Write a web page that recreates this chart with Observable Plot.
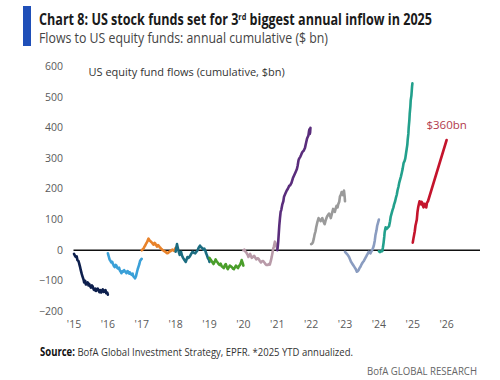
<!DOCTYPE html>
<html>
<head>
<meta charset="utf-8">
<script src="https://cdn.jsdelivr.net/npm/d3@7"></script>
<script src="https://cdn.jsdelivr.net/npm/@observablehq/plot@0.6"></script>
<style>
  html, body { margin: 0; padding: 0; background: #fff; }
  body { width: 500px; height: 380px; position: relative; overflow: hidden; font-family: "Open Sans", "Noto Sans", sans-serif; }
  .abs { position: absolute; white-space: nowrap; transform-origin: 0 50%; }
  #bar { position: absolute; left: 23px; top: 6px; width: 8px; height: 40px; background: #1f4fb8; }
  #title { left: 39px; top: 9.5px; font-size: 15.5px; line-height: 18px; font-weight: 700; color: #1a1a1a; }
  #title sup { font-size: 9px; line-height: 0; vertical-align: 5px; }
  #subtitle { left: 39px; top: 29px; font-size: 14px; line-height: 18px; color: #444; }
  #source { left: 40px; top: 344px; font-size: 11.5px; line-height: 16px; color: #333; }
  #source b { color: #111; }
  #brand { left: 367px; top: 365px; font-size: 11.5px; line-height: 12px; color: #666; }
  #chart { position: absolute; left: 0; top: 55px; }
</style>
</head>
<body>
<div id="bar"></div>
<div id="title" class="abs" data-w="393">Chart 8: US stock funds set for 3<sup>rd</sup> biggest annual inflow in 2025</div>
<div id="subtitle" class="abs" data-w="289">Flows to US equity funds: annual cumulative ($ bn)</div>
<div id="chart"></div>
<div id="source" class="abs" data-w="313"><b>Source:</b> BofA Global Investment Strategy, EPFR. *2025 YTD annualized.</div>
<div id="brand" class="abs" data-w="110">BofA GLOBAL RESEARCH</div>
<script>
// Categories
const years = [2015, 2016, 2017, 2018, 2019, 2020, 2021, 2022, 2023, 2024, 2025];
const yearColors = ["#0d1f4d", "#3aa0d8", "#e8822a", "#1b6c80", "#4a9e2a", "#b89aa8", "#5a2d7c", "#9a9a9a", "#8a9cc0", "#22a08c", "#c4142c"];
const xTicks = [2015, 2016, 2017, 2018, 2019, 2020, 2021, 2022, 2023, 2024, 2025, 2026];
const yTicks = [-200, -100, 0, 100, 200, 300, 400, 500, 600];

// Series values: [fraction of year, cumulative flow $bn]
const flows2015 = [[0,-12],[0.03,-18],[0.05,-22],[0.08,-20],[0.1,-32],[0.13,-35],[0.15,-42],[0.18,-55],[0.2,-65],[0.23,-78],[0.25,-85],[0.28,-95],[0.3,-105],[0.33,-100],[0.35,-112],[0.38,-108],[0.4,-105],[0.43,-115],[0.45,-110],[0.48,-118],[0.5,-122],[0.53,-115],[0.55,-118],[0.58,-128],[0.6,-130],[0.63,-125],[0.65,-133],[0.68,-128],[0.7,-125],[0.73,-132],[0.75,-137],[0.78,-130],[0.8,-138],[0.83,-132],[0.85,-128],[0.88,-136],[0.9,-133],[0.93,-130],[0.95,-140],[0.98,-138],[1,-145]];
const flows2016 = [[0,-10],[0.03,-22],[0.05,-30],[0.08,-35],[0.1,-40],[0.13,-38],[0.15,-45],[0.18,-52],[0.2,-55],[0.23,-48],[0.25,-50],[0.28,-58],[0.3,-60],[0.33,-57],[0.35,-65],[0.38,-70],[0.4,-75],[0.43,-68],[0.45,-70],[0.48,-65],[0.5,-68],[0.53,-72],[0.55,-75],[0.58,-68],[0.6,-70],[0.63,-76],[0.65,-72],[0.68,-78],[0.7,-80],[0.73,-76],[0.75,-85],[0.78,-88],[0.8,-92],[0.83,-85],[0.85,-75],[0.88,-62],[0.9,-55],[0.93,-45],[0.95,-35],[0.98,-30],[1,-28]];
const flows2017 = [[0,0],[0.03,3],[0.05,5],[0.08,12],[0.1,15],[0.13,22],[0.15,25],[0.18,33],[0.2,38],[0.23,32],[0.25,30],[0.28,27],[0.3,25],[0.33,20],[0.35,18],[0.38,24],[0.4,22],[0.43,16],[0.45,12],[0.48,17],[0.5,15],[0.53,10],[0.55,8],[0.58,4],[0.6,2],[0.63,0],[0.65,-2],[0.68,-4],[0.7,-5],[0.73,-8],[0.75,-10],[0.78,-9],[0.8,-6],[0.83,-4],[0.85,-3],[0.88,0],[0.9,2],[0.93,0],[0.95,-2],[0.98,4],[1,8]];
const flows2018 = [[0,-5],[0.02,8],[0.04,20],[0.06,10],[0.08,0],[0.1,-8],[0.12,-15],[0.14,-10],[0.16,-5],[0.19,-18],[0.22,-25],[0.26,-32],[0.3,-38],[0.33,-28],[0.35,-22],[0.38,-25],[0.42,-20],[0.46,-12],[0.5,-5],[0.54,-8],[0.58,-10],[0.62,-4],[0.65,0],[0.68,8],[0.72,15],[0.75,10],[0.78,8],[0.82,2],[0.85,5],[0.88,-2],[0.9,-10],[0.93,-18],[0.95,-25],[0.98,-30],[1,-38]];
const flows2019 = [[0,-25],[0.03,-30],[0.06,-35],[0.09,-40],[0.12,-45],[0.15,-38],[0.18,-30],[0.21,-36],[0.24,-40],[0.27,-45],[0.3,-48],[0.33,-44],[0.36,-52],[0.39,-55],[0.42,-58],[0.45,-50],[0.48,-45],[0.51,-55],[0.54,-62],[0.57,-56],[0.6,-50],[0.63,-53],[0.66,-55],[0.69,-60],[0.72,-62],[0.75,-56],[0.78,-50],[0.81,-55],[0.84,-58],[0.87,-52],[0.9,-48],[0.93,-40],[0.95,-32],[0.98,-42],[1,-50]];
const flows2020 = [[0,0],[0.03,2],[0.05,-3],[0.08,-6],[0.1,-10],[0.13,-16],[0.15,-22],[0.18,-16],[0.2,-12],[0.23,-20],[0.25,-25],[0.28,-22],[0.32,-18],[0.35,-24],[0.38,-30],[0.42,-26],[0.45,-28],[0.48,-34],[0.52,-40],[0.55,-36],[0.58,-35],[0.62,-40],[0.65,-45],[0.68,-48],[0.72,-48],[0.75,-45],[0.78,-47],[0.81,-35],[0.84,-20],[0.86,-8],[0.88,5],[0.9,12],[0.93,28],[0.95,22],[0.97,15],[1,5]];
const flows2021 = [[0,0],[0.015,12],[0.03,30],[0.045,55],[0.06,80],[0.08,105],[0.1,125],[0.12,132],[0.15,150],[0.18,160],[0.2,175],[0.24,185],[0.28,195],[0.31,200],[0.35,210],[0.38,212],[0.42,220],[0.46,235],[0.5,245],[0.54,255],[0.58,265],[0.6,275],[0.63,295],[0.65,300],[0.68,305],[0.7,310],[0.73,318],[0.75,322],[0.78,325],[0.82,335],[0.85,350],[0.88,365],[0.9,370],[0.92,375],[0.94,390],[0.95,395],[0.96,380],[0.97,385],[0.98,400]];
const flows2022 = [[0,20],[0.03,22],[0.05,25],[0.08,38],[0.1,50],[0.13,62],[0.15,75],[0.18,90],[0.22,105],[0.25,100],[0.28,95],[0.3,100],[0.33,105],[0.36,95],[0.4,85],[0.43,98],[0.47,110],[0.5,115],[0.53,120],[0.56,112],[0.58,105],[0.62,122],[0.65,135],[0.68,130],[0.7,125],[0.73,138],[0.75,145],[0.78,140],[0.8,150],[0.83,158],[0.85,175],[0.88,182],[0.9,190],[0.92,185],[0.94,180],[0.96,190],[0.97,195],[0.99,175],[1,160]];
const flows2023 = [[0,-5],[0.04,-10],[0.08,-15],[0.12,-22],[0.15,-30],[0.18,-38],[0.22,-45],[0.25,-50],[0.28,-55],[0.32,-62],[0.35,-70],[0.38,-68],[0.4,-65],[0.43,-58],[0.45,-55],[0.48,-48],[0.52,-40],[0.55,-36],[0.58,-30],[0.62,-22],[0.65,-15],[0.68,-10],[0.7,-5],[0.73,-8],[0.75,-10],[0.78,-4],[0.8,0],[0.83,8],[0.85,15],[0.88,32],[0.9,50],[0.93,65],[0.95,80],[0.98,92],[1,100]];
const flows2024 = [[0,-3],[0.03,-6],[0.05,-5],[0.08,-2],[0.1,-3],[0.12,10],[0.14,25],[0.16,45],[0.17,58],[0.19,70],[0.2,75],[0.23,70],[0.25,72],[0.28,76],[0.3,78],[0.33,95],[0.35,110],[0.38,122],[0.4,130],[0.43,140],[0.45,150],[0.48,160],[0.5,170],[0.53,182],[0.55,195],[0.58,208],[0.6,220],[0.63,232],[0.65,240],[0.68,255],[0.7,265],[0.72,278],[0.73,285],[0.76,292],[0.78,300],[0.8,315],[0.82,330],[0.84,345],[0.85,360],[0.87,380],[0.88,400],[0.9,425],[0.91,445],[0.93,470],[0.94,490],[0.96,505],[0.97,520],[0.98,535],[0.99,545]];
const flows2025 = [[0,25],[0.02,38],[0.04,50],[0.06,62],[0.08,80],[0.1,90],[0.12,100],[0.14,125],[0.16,140],[0.18,150],[0.2,160],[0.22,152],[0.24,150],[0.26,158],[0.28,155],[0.3,145],[0.32,140],[0.34,152],[0.36,150],[0.38,143],[0.4,140],[0.42,155],[0.45,160],[1,360]];
const annualized2025 = [{year: 2025, t: 1, value: 360, label: "$360bn"}];
const innerLabel = "US equity fund flows (cumulative, $bn)";

const allFlows = [flows2015, flows2016, flows2017, flows2018, flows2019, flows2020, flows2021, flows2022, flows2023, flows2024, flows2025];
const table = allFlows.flatMap((s, i) => s.map(([t, v]) => ({year: years[i], x: years[i] + t, value: v})));

const fontFam = '"Open Sans", "Noto Sans", sans-serif';
const chart = Plot.plot({
  width: 500,
  height: 285,
  marginLeft: 73.5,
  marginRight: 20,
  marginTop: 11,
  marginBottom: 29,
  style: {fontFamily: fontFam, fontSize: "10.5px", color: "#5a5a5a", background: "transparent"},
  x: {domain: [2015, 2027], ticks: xTicks, tickFormat: d => "'" + String(d).slice(2), tickSize: 0, tickPadding: 9, label: null},
  y: {domain: [-200, 600], ticks: yTicks, tickSize: 0, tickPadding: 11, label: null},
  color: {type: "ordinal", domain: years, range: yearColors},
  marks: [
    Plot.ruleY([0], {stroke: "#111", strokeWidth: 1.5}),
    Plot.line(table, {x: "x", y: "value", z: "year", stroke: "year", strokeWidth: 2.6, strokeLinejoin: "round", strokeLinecap: "round"}),
    Plot.text(annualized2025, {x: d => d.year + d.t, y: "value", text: "label", fill: "#b23a4c", fontSize: 11.5, dy: -15, textAnchor: "middle", fontFamily: fontFam}),
    Plot.text([innerLabel], {frameAnchor: "top-left", text: d => d, dx: 14.5, dy: 2, fill: "#333", fontSize: 11, textAnchor: "start", fontFamily: fontFam})
  ]
});
document.getElementById("chart").appendChild(chart);

// fit HTML text widths to reference widths
document.querySelectorAll(".abs").forEach(el => {
  const target = +el.dataset.w;
  const w = el.getBoundingClientRect().width;
  if (w > 0) el.style.transform = `scaleX(${target / w})`;
});
</script>
</body>
</html>
